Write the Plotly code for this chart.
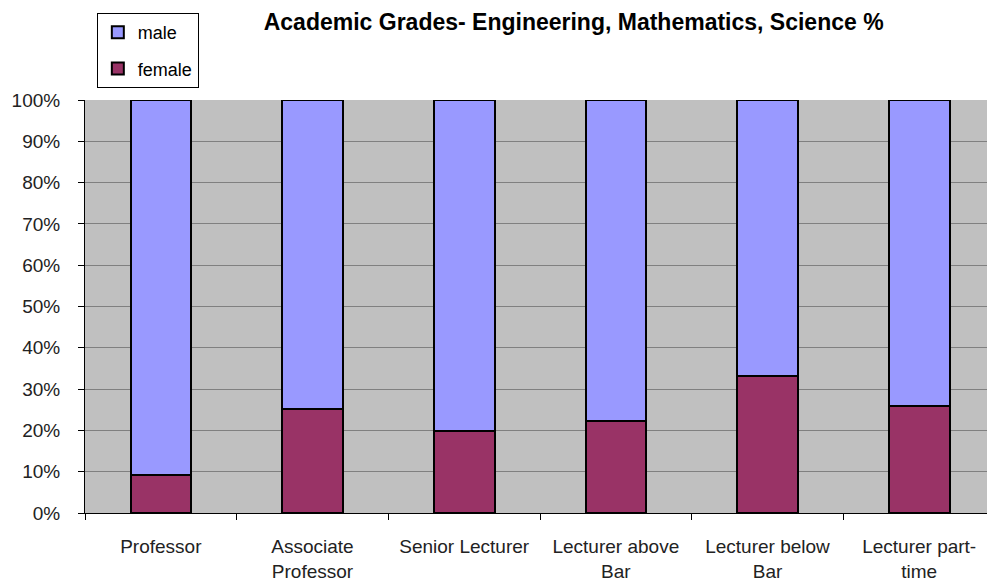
import plotly.graph_objects as go

# Categorias e valores (%)
categories = ["Professor", "Associate<br>Professor", "Senior Lecturer",
              "Lecturer above<br>Bar", "Lecturer below<br>Bar", "Lecturer part-<br>time"]
female = [9.2, 25.2, 19.9, 22.3, 33.2, 25.9]
male = [90.8, 74.8, 80.1, 77.7, 66.8, 74.1]
y_ticks = list(range(0, 101, 10))

fig = go.Figure()
fig.add_trace(go.Bar(x=categories, y=female, name="female", legendgroup="f", legendrank=2,
                     marker=dict(color="#993366", line=dict(color="black", width=2))))
fig.add_trace(go.Bar(x=categories, y=male, name="male", legendgroup="m", legendrank=1,
                     marker=dict(color="#9999FF", line=dict(color="black", width=2))))

# a página tem margem de 8px no body, por isso o tamanho é 987x577
fig.update_layout(
    barmode="stack",
    bargap=0.6,
    width=987, height=577,
    margin=dict(l=77, r=0, t=92, b=72),
    paper_bgcolor="white",
    plot_bgcolor="#C0C0C0",
    font=dict(family="Arial, Liberation Sans", size=19, color="#222222"),
    title=dict(text="<b>Academic Grades- Engineering, Mathematics, Science %</b>",
               font=dict(size=23, color="black"),
               xref="paper", x=0.537, xanchor="center",
               yref="container", y=1 - 14 / 577, yanchor="middle"),
    legend=dict(x=0.013, y=1 + 87 / 413, xanchor="left", yanchor="top",
                bgcolor="white", bordercolor="black", borderwidth=1,
                traceorder="grouped", tracegroupgap=10, itemwidth=30,
                font=dict(size=18, color="black")),
    showlegend=True,
)

fig.update_yaxes(range=[0, 100], tickvals=y_ticks, ticktext=[f"{v}%" for v in y_ticks],
                 showgrid=True, gridcolor="#808080", gridwidth=1,
                 showline=True, linecolor="black", linewidth=1,
                 ticks="outside", ticklen=6, tickcolor="black", zeroline=False,
                 ticklabelstandoff=14)
fig.update_xaxes(showline=True, linecolor="black", linewidth=1,
                 ticks="outside", ticklen=6, tickcolor="black", tickson="boundaries",
                 tickangle=0, ticklabelstandoff=16)

fig.write_html("out.html")
